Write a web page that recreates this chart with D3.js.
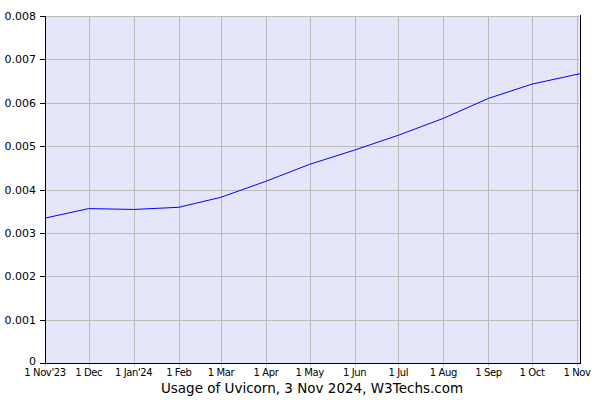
<!DOCTYPE html>
<html><head><meta charset="utf-8">
<script src="https://cdn.jsdelivr.net/npm/d3@7"></script>
<style>body{margin:0;background:#fff}svg{display:block}text{font-family:"DejaVu Sans",Verdana,sans-serif}</style>
</head><body><svg width="600" height="400"></svg>
<script>
const dates = ["2023-11-01","2023-12-01","2024-01-01","2024-02-01","2024-03-01","2024-04-01","2024-05-01","2024-06-01","2024-07-01","2024-08-01","2024-09-01","2024-10-01","2024-11-03"];
const values = [0.00334,0.00356,0.00354,0.00359,0.00382,0.00419,0.00458,0.00491,0.00525,0.00564,0.00610,0.00643,0.00667];
const tickDates = ["2023-11-01","2023-12-01","2024-01-01","2024-02-01","2024-03-01","2024-04-01","2024-05-01","2024-06-01","2024-07-01","2024-08-01","2024-09-01","2024-10-01","2024-11-01"];
const tickLabels = ["1 Nov'23","1 Dec","1 Jan'24","1 Feb","1 Mar","1 Apr","1 May","1 Jun","1 Jul","1 Aug","1 Sep","1 Oct","1 Nov"];
const yTicks = [0,0.001,0.002,0.003,0.004,0.005,0.006,0.007,0.008];
const yLabels = ["0","0.001","0.002","0.003","0.004","0.005","0.006","0.007","0.008"];
const title = "Usage of Uvicorn, 3 Nov 2024, W3Techs.com";

const parse = d3.utcParse("%Y-%m-%d");
const svg = d3.select("svg");
const L=45, R=580, T=16, B=363;
const x = d3.scaleUtc().domain([parse("2023-11-01"), parse("2024-11-03")]).range([L, R]);
const y = d3.scaleLinear().domain([0,0.008]).range([B, T]);

svg.append("rect").attr("x",L).attr("y",T).attr("width",R-L).attr("height",B-T).attr("fill","#e6e6fa");

const g = svg.append("g");
g.selectAll("line.h").data(yTicks).join("line")
  .attr("x1",L).attr("x2",R).attr("y1",d=>Math.round(y(d))+0.5).attr("y2",d=>Math.round(y(d))+0.5)
  .attr("stroke","#bbbbbb").attr("stroke-width",1);
g.selectAll("line.v").data(tickDates).join("line")
  .attr("x1",d=>Math.round(x(parse(d)))+0.5).attr("x2",d=>Math.round(x(parse(d)))+0.5)
  .attr("y1",T).attr("y2",B+3)
  .attr("stroke","#bbbbbb").attr("stroke-width",1);

const line = d3.line().x((d,i)=>x(parse(dates[i]))).y(d=>y(d));
svg.append("path").datum(values).attr("d",line).attr("fill","none").attr("stroke","#0000ff").attr("stroke-width",1);

// axes frame
svg.append("line").attr("x1",L+0.5).attr("x2",L+0.5).attr("y1",T).attr("y2",B+1).attr("stroke","#000");
svg.append("line").attr("x1",R+0.5).attr("x2",R+0.5).attr("y1",T-1).attr("y2",B+1).attr("stroke","#000");
svg.append("line").attr("x1",L).attr("x2",R+1).attr("y1",B+0.5).attr("y2",B+0.5).attr("stroke","#000");

// y ticks
svg.selectAll("line.yt").data(yTicks).join("line")
  .attr("x1",L-5).attr("x2",L).attr("y1",d=>Math.round(y(d))+0.5).attr("y2",d=>Math.round(y(d))+0.5).attr("stroke","#000");
svg.selectAll("text.yl").data(yTicks).join("text")
  .attr("x",L-9).attr("y",d=>y(d)+(d===0?2:4)).attr("text-anchor","end")
  .attr("font-size","11px").attr("fill","#000").text((d,i)=>yLabels[i]);

svg.selectAll("text.xl").data(tickDates).join("text")
  .attr("x",d=>x(parse(d))).attr("y",B+12.5).attr("text-anchor","middle")
  .attr("font-size","10px").attr("letter-spacing","-0.4px").attr("fill","#000").text((d,i)=>tickLabels[i]);

svg.append("text").attr("x",312).attr("y",393).attr("text-anchor","middle")
  .attr("font-size","13.5px").attr("fill","#000").text(title);
</script></body></html>
